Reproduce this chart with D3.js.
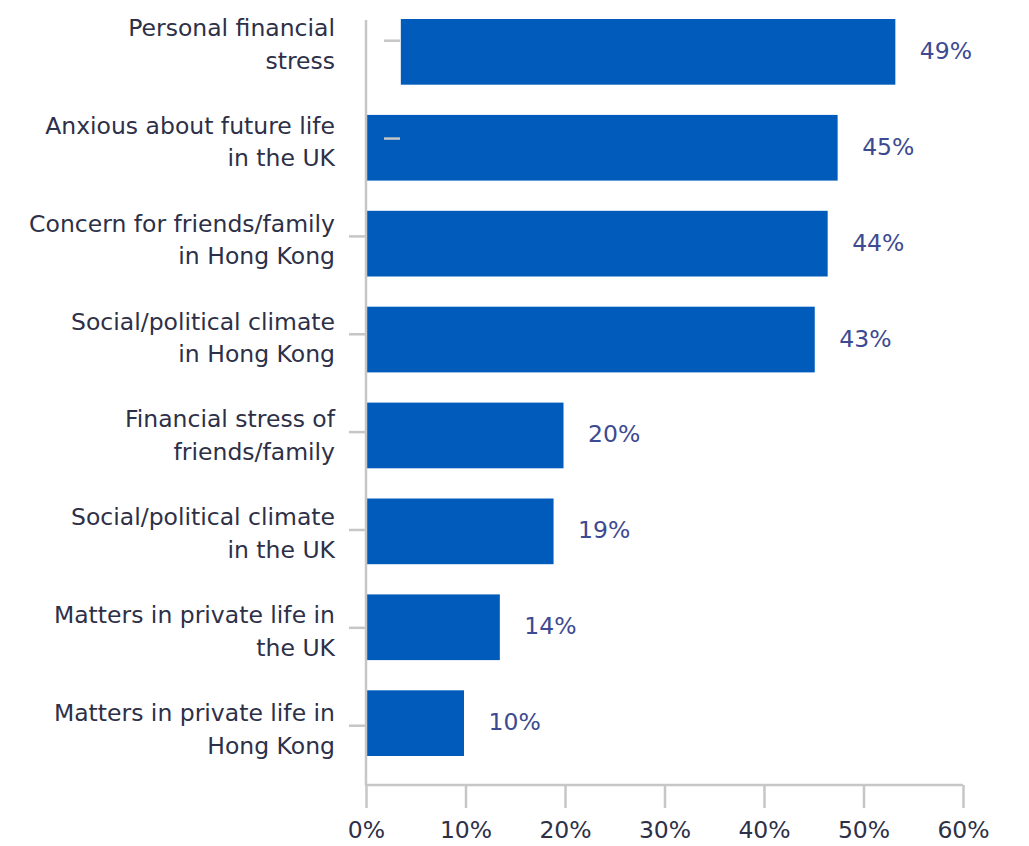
<!DOCTYPE html>
<html>
<head>
<meta charset="utf-8">
<script src="https://cdn.jsdelivr.net/npm/d3@7"></script>
<style>
    body { margin: 0; background: #ffffff; }
    text { font-family: "DejaVu Sans", sans-serif; }
</style>
</head>
<body>
<svg width="1029" height="846"></svg>
<script>
// categories (two lines each, as printed)
var categories = [
    ["Personal financial", "stress"],
    ["Anxious about future life", "in the UK"],
    ["Concern for friends/family", "in Hong Kong"],
    ["Social/political climate", "in Hong Kong"],
    ["Financial stress of", "friends/family"],
    ["Social/political climate", "in the UK"],
    ["Matters in private life in", "the UK"],
    ["Matters in private life in", "Hong Kong"]
]

// printed labels
var value_labels = ["49%", "45%", "44%", "43%", "20%", "19%", "14%", "10%"]

// bar start / end as drawn in the picture (percent)
var bar_start = [3.5, 0, 0, 0, 0, 0, 0, 0]
var bar_end = [53.2, 47.4, 46.4, 45.1, 19.85, 18.85, 13.45, 9.85]

var x_ticks = [0, 10, 20, 30, 40, 50, 60]

function setup_svg() {
    var svg = d3.select("svg"),
        margin = { top: 19, right: 66, bottom: 61, left: 366 },
        width = svg.attr("width") - margin.left - margin.right,
        height = svg.attr("height") - margin.top - margin.bottom
    return { svg, margin, width, height }
}

var { svg, margin, width, height } = setup_svg()

var axis_color = "#c6c6c6"

var x_scale = d3.scaleLinear()
    .domain([0, 60])
    .range([366, 963])

// bars sit on one band scale
var y_bar = d3.scaleBand()
    .domain(d3.range(categories.length))
    .range([19, 756])
    .paddingInner(0.315)
    .paddingOuter(0)

// ticks and category labels sit on another
var y_tick = d3.scalePoint()
    .domain(d3.range(categories.length))
    .range([40.7, 725.7])

// ticks for the first two rows sit further right
function tick_shift(i) { return i < 2 ? 35 : 0 }

// bars
svg.append("g")
    .selectAll("rect")
    .data(d3.range(categories.length))
    .enter().append("rect")
    .attr("x", function (i) { return x_scale(bar_start[i]) })
    .attr("y", function (i) { return y_bar(i) })
    .attr("width", function (i) { return x_scale(bar_end[i]) - x_scale(bar_start[i]) })
    .attr("height", y_bar.bandwidth())
    .attr("fill", "#005bbb")

// y axis line
svg.append("line")
    .attr("x1", x_scale(0)).attr("x2", x_scale(0))
    .attr("y1", 20).attr("y2", 786)
    .attr("stroke", axis_color)
    .attr("stroke-width", 2.5)

// y ticks (drawn on top of bars)
svg.append("g")
    .selectAll("line")
    .data(d3.range(categories.length))
    .enter().append("line")
    .attr("x1", function (i) { return x_scale(0) - 17 + tick_shift(i) })
    .attr("x2", function (i) { return x_scale(0) + tick_shift(i) - (tick_shift(i) ? 1 : 0) })
    .attr("y1", function (i) { return y_tick(i) })
    .attr("y2", function (i) { return y_tick(i) })
    .attr("stroke", axis_color)
    .attr("stroke-width", 2.5)

// category labels
var cat = svg.append("g")
    .selectAll("text")
    .data(d3.range(categories.length))
    .enter().append("text")
    .attr("text-anchor", "end")
    .attr("fill", "#2d3047")
    .style("font-size", "23.5px")

cat.each(function (i) {
    var t = d3.select(this)
    categories[i].forEach(function (line, k) {
        t.append("tspan")
            .attr("x", 335)
            .attr("y", y_tick(i) - 4.7 + k * 32.5)
            .text(line)
    })
})

// value labels
svg.append("g")
    .selectAll("text")
    .data(d3.range(categories.length))
    .enter().append("text")
    .attr("x", function (i) { return x_scale(bar_end[i]) + 24.5 })
    .attr("y", function (i) { return y_bar(i) + y_bar.bandwidth() / 2 - 1.5 })
    .attr("dy", "0.36em")
    .attr("fill", "#3d4a91")
    .style("font-size", "23.5px")
    .text(function (i) { return value_labels[i] })

// x axis
var x_axis = svg.append("g")
    .attr("transform", "translate(0,785)")
    .call(d3.axisBottom(x_scale)
        .tickValues(x_ticks)
        .tickSize(23)
        .tickPadding(13)
        .tickFormat(function (d) { return d + "%" }))

x_axis.select(".domain")
    .attr("stroke", axis_color)
    .attr("stroke-width", 2.5)
    .attr("d", "M" + x_scale(0) + ",0H" + x_scale(60))
x_axis.selectAll(".tick line")
    .attr("stroke", axis_color)
    .attr("stroke-width", 2.5)
x_axis.selectAll(".tick text")
    .attr("fill", "#2d3047")
    .style("font-family", "DejaVu Sans, sans-serif")
    .style("font-size", "23.5px")
</script>
</body>
</html>
